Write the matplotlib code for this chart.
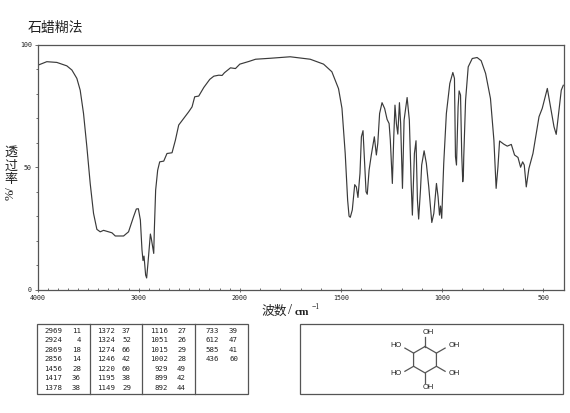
import numpy as np
import matplotlib
matplotlib.use('Agg')
import matplotlib.pyplot as plt

CJK = ['Noto Sans CJK SC', 'DejaVu Sans']
W, H = 570, 413

wavenumber = [4000,3908,3809,3710,3660,3611,3578,3545,3512,3479,3446,3413,3380,3347,3264,3231,3149,3100,3050,3023,3003,2983,2967,2957,2947,2931,2921,2908,2884,2875,2851,2845,2832,2812,2792,2752,2720,2670,2637,2604,2554,2505,2472,2446,2406,2356,2297,2257,2208,2175,2152,2092,2043,2000,1955,1922,1848,1751,1652,1586,1545,1512,1495,1479,1467,1460,1454,1444,1432,1424,1416,1406,1399,1391,1384,1376,1370,1361,1350,1335,1325,1318,1309,1297,1284,1272,1262,1256,1246,1239,1233,1226,1219,1211,1205,1196,1188,1173,1162,1153,1147,1137,1129,1122,1116,1107,1101,1089,1078,1066,1051,1041,1028,1020,1013,1008,1002,992,979,962,947,939,934,929,921,916,909,903,898,895,893,884,871,851,827,807,785,761,744,733,724,716,695,678,658,642,625,612,602,594,584,571,551,521,505,480,467,447,436,426,411,401]
transmittance = [91.5,93,92.7,91.3,89.6,86.2,81.4,71.9,58.3,43.4,31.2,24.7,23.7,24.3,23.3,22,22,23.7,29.9,33,33.1,28.5,16.3,12,13.8,6.1,4.9,10.9,22.8,21,14.9,24.4,40.7,48.8,52.2,52.5,55.6,55.9,61,67.2,69.9,72.6,74.6,78.7,79,82.5,85.8,87.1,87.5,87.4,88.5,90.5,90.2,92,93.1,94,94.4,95,94,92,88.9,82,74,55.6,36.6,30.1,29.6,32.6,42.9,42,37.7,47.5,62.4,64.9,52.9,40,39,48.8,55,62.4,55,59.7,71.9,76.3,73.9,69.5,67.8,61,43.4,62.4,75.3,67.8,63.5,76.3,67.8,41.4,69.2,78.4,69.2,43.4,30.5,55.6,60.8,36.6,28.9,40.7,50.9,56.7,51.6,42,27.5,31.2,43.4,38,30.5,34.2,29.2,51.6,71.9,84.1,88.6,86.2,54.3,50.9,74.6,81.1,79.4,55,44.1,46.8,54.3,77.3,90.9,94.3,94.7,93.4,88.2,78,61,41.4,50.2,60.7,59.4,58.6,59.3,55,54,50,52.2,50.9,42,49.5,55.6,70.6,74,82.1,76,66.5,63.4,70.6,81.4,83.4]

x_tick_values = [4000, 3000, 2000, 1500, 1000, 500]
y_tick_values = [0, 50, 100]

peak_wn_1 = [2969, 2924, 2869, 2856, 1456, 1417, 1378]
peak_t_1 = [11, 4, 18, 14, 28, 36, 38]
peak_wn_2 = [1372, 1324, 1274, 1246, 1220, 1195, 1149]
peak_t_2 = [37, 52, 66, 42, 60, 38, 29]
peak_wn_3 = [1116, 1051, 1015, 1002, 929, 899, 892]
peak_t_3 = [27, 26, 29, 28, 49, 42, 44]
peak_wn_4 = [733, 612, 585, 436]
peak_t_4 = [39, 47, 41, 60]
table_wn = [peak_wn_1, peak_wn_2, peak_wn_3, peak_wn_4]
table_t = [peak_t_1, peak_t_2, peak_t_3, peak_t_4]
hydroxyl_labels = ['OH', 'OH', 'OH', 'OH', 'HO', 'HO']


def fwd(x):
    x = np.asarray(x, dtype=float)
    return np.where(x >= 2000, x, 2 * x - 2000)


def inv(v):
    v = np.asarray(v, dtype=float)
    return np.where(v >= 2000, v, (v + 2000) / 2)


fig = plt.figure(figsize=(W / 100, H / 100), dpi=100)
fig.patch.set_facecolor('white')
ink = '#3a3a3a'
frame = '#555555'
text_c = '#222222'

L, R, T, B = 37.5, 563.5, 44.5, 290
ax = fig.add_axes([L / W, 1 - B / H, (R - L) / W, (B - T) / H])
ax.set_xscale('function', functions=(fwd, inv))
ax.plot(wavenumber, transmittance, color=ink, lw=0.85)
ax.set_xlim(4000, 400)
ax.set_ylim(0, 100)
ax.set_xticks(x_tick_values)
ax.set_xticklabels([str(v) for v in x_tick_values], family='DejaVu Sans Mono', fontsize=4.8, color=text_c)
ax.set_xticks([v for v in list(range(3900, 2000, -100)) + list(range(1900, 400, -100))
               if v not in x_tick_values], minor=True)
ax.set_yticks(y_tick_values)
ax.set_yticklabels([str(v) for v in y_tick_values], family='DejaVu Sans Mono', fontsize=4.8, color=text_c)
ax.set_yticks([v for v in range(10, 100, 10) if v not in y_tick_values], minor=True)
ax.tick_params(axis='x', which='major', direction='inout', length=3.5, width=0.6, color=frame, pad=1.5)
ax.tick_params(axis='x', which='minor', direction='in', length=1.2, width=0.6, color=frame)
ax.tick_params(axis='y', which='major', direction='out', length=2.5, width=0.6, color=frame, pad=1.5)
ax.tick_params(axis='y', which='minor', direction='out', length=1.2, width=0.6, color=frame)
for s in ax.spines.values():
    s.set_color(frame)
    s.set_linewidth(0.9)

# Overlay in image pixel coordinates for annotations, the table and the structure.
ov = fig.add_axes([0, 0, 1, 1], facecolor='none')
ov.set_xlim(0, W)
ov.set_ylim(H, 0)
ov.axis('off')

ov.text(28, 27.5, '石蜡糊法', family=CJK, fontsize=10, color=text_c, ha='left', va='center')
for yy, ch in zip([152, 166, 179], '透过率'):
    ov.text(11, yy, ch, family=CJK, fontsize=9.4, color=text_c, ha='center', va='center')
ov.text(11, 193.5, '%/', family='Liberation Serif', fontsize=9, color=text_c, rotation=90, ha='center', va='center')
ov.text(261, 311, '波数', family=CJK, fontsize=9.2, color=text_c, ha='left', va='center')
ov.text(288.5, 311, '/', family='Liberation Serif', fontsize=10.5, color=text_c, ha='left', va='center')
ov.text(295, 312.5, 'cm', family='Liberation Serif', fontsize=8.2, weight='bold', color=text_c, ha='left', va='center')
ov.text(311.5, 307, '−1', family='Liberation Serif', fontsize=5.5, color=text_c, ha='left', va='center')

# Peak table
tx0, tx1, ty0, ty1 = 37.3, 247.7, 324, 394
ov.add_patch(plt.Rectangle((tx0, ty0), tx1 - tx0, ty1 - ty0, fill=False, ec=frame, lw=0.9))
for xd in [90.3, 142.3, 195.3]:
    ov.plot([xd, xd], [ty0, ty1], color=frame, lw=0.9)
for xw, xt, wns, ts in zip([62, 115, 168, 219], [81, 131, 186, 238], table_wn, table_t):
    for i, (a, b) in enumerate(zip(wns, ts)):
        yy = 331 + i * 9.43
        ov.text(xw, yy, str(a), family='DejaVu Sans Mono', fontsize=5.3, color=text_c, ha='right', va='center')
        ov.text(xt, yy, str(b), family='DejaVu Sans Mono', fontsize=5.3, color=text_c, ha='right', va='center')

# Structure box
ov.add_patch(plt.Rectangle((300.3, 323.5), 262.7, 70.5, fill=False, ec=frame, lw=0.9))
cx, cy, rad = 425, 359.7, 13.2
angles = np.deg2rad([90, 30, -30, -90, -150, 150])
hx = cx + rad * np.cos(angles)
hy = cy - rad * np.sin(angles)
ov.plot(np.r_[hx, hx[0]], np.r_[hy, hy[0]], color='#555555', lw=0.9)
bond = 10
lab = 14.5
for a, x0, y0 in zip(angles, hx, hy):
    ov.plot([x0, x0 + bond * np.cos(a)], [y0, y0 - bond * np.sin(a)], color='#555555', lw=0.9)
offs = [(3, 0), (5, 0), (5, 0), (3, 0), (-5, 0), (-5, 0)]
for a, x0, y0, (dx, dy), txt in zip(angles, hx, hy, offs, hydroxyl_labels):
    ov.text(x0 + lab * np.cos(a) + dx, y0 - lab * np.sin(a) + dy, txt, family='Liberation Sans', fontsize=5.4, color=text_c, ha='center', va='center')

fig.savefig('out.png', dpi=100, facecolor='white')
